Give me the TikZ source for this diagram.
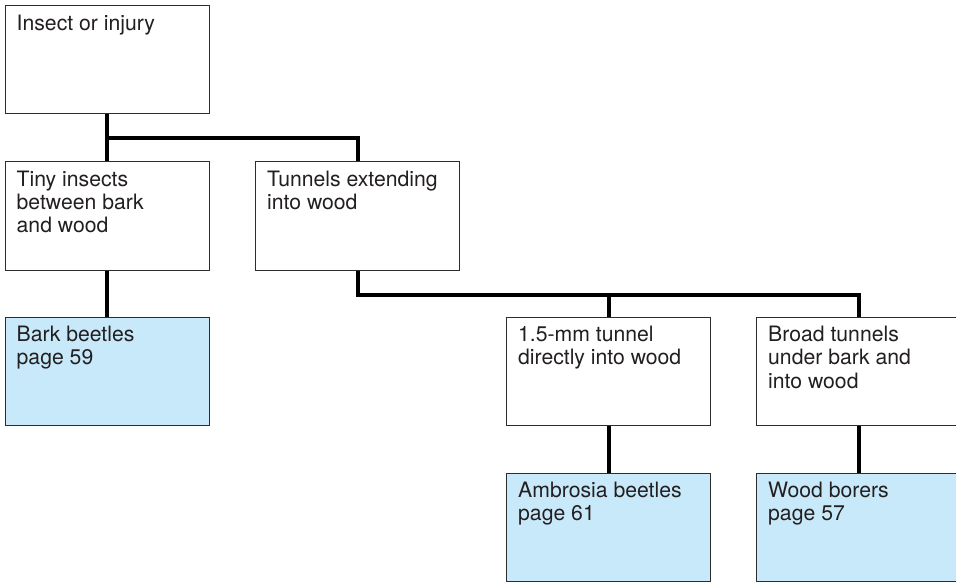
\documentclass[tikz,border=0pt]{standalone}
\usepackage{fontspec}
\setmainfont{TeX Gyre Heros}
\definecolor{bluefill}{RGB}{200,233,249}
\definecolor{txt}{RGB}{35,31,32}
\definecolor{edge}{RGB}{45,45,45}
\newcommand{\lines}[1]{\vtop{\baselineskip=23.3pt\lineskiplimit=-10pt #1}}
\tikzset{
  box/.style={draw=edge, line width=1.4pt, rectangle, minimum width=204pt, minimum height=108.5pt, inner sep=0pt, anchor=north west},
  leaf/.style={box, fill=bluefill},
  lbl/.style={anchor=base west, inner sep=0pt, text=txt, font=\fontsize{21.2}{23.3}\selectfont},
  conn/.style={line width=4pt, black, line join=miter}
}
\begin{document}
\begin{tikzpicture}[x=1pt,y=-1pt]
\useasboundingbox (0,0) rectangle (956,582);
\clip (0,0) rectangle (956,582);
\fill[white] (0,0) rectangle (956,582);
% boxes
\node[box]  (root)  at (4.5,4.5) {};
\node[box]  (tiny)  at (4.5,161) {};
\node[box]  (tun)   at (255,161) {};
\node[leaf] (bark)  at (4.5,316.5) {};
\node[box]  (mm)    at (506,316.5) {};
\node[box]  (broad) at (756,316.5) {};
\node[leaf] (amb)   at (506,472.5) {};
\node[leaf] (wood)  at (756,472.5) {};
% texts
\node[lbl] (troot)  at ([shift={(12,25.5)}]root.north west) {Insect or injury};
\node[lbl] (ttiny)  at ([shift={(12,25)}]tiny.north west) {\lines{\hbox{Tiny insects}\hbox{between bark}\hbox{and wood}}};
\node[lbl] (ttun)   at ([shift={(12,25)}]tun.north west) {\lines{\hbox{Tunnels extending}\hbox{into wood}}};
\node[lbl] (tbark)  at ([shift={(12,25)}]bark.north west) {\lines{\hbox{Bark beetles}\hbox{page 59}}};
\node[lbl] (tmm)    at ([shift={(12,25)}]mm.north west) {\lines{\hbox{1.5-mm tunnel}\hbox{directly into wood}}};
\node[lbl] (tbroad) at ([shift={(12,25)}]broad.north west) {\lines{\hbox{Broad tunnels}\hbox{under bark and}\hbox{into wood}}};
\node[lbl] (tamb)   at ([shift={(12,25)}]amb.north west) {\lines{\hbox{Ambrosia beetles}\hbox{page 61}}};
\node[lbl] (twood)  at ([shift={(12,25)}]wood.north west) {\lines{\hbox{Wood borers}\hbox{page 57}}};
% connectors
\draw[conn] (root.south) -- (tiny.north);
\draw[conn] (root.south) -- ++(0,24) -| (tun.north);
\draw[conn] (tiny.south) -- (bark.north);
\draw[conn] (tun.south) -- ++(0,24) -| (broad.north);
\draw[conn] (mm.north) -- (mm.north |- 0,293.5);
\draw[conn] (mm.south) -- (amb.north);
\draw[conn] (broad.south) -- (wood.north);
\end{tikzpicture}
\end{document}
